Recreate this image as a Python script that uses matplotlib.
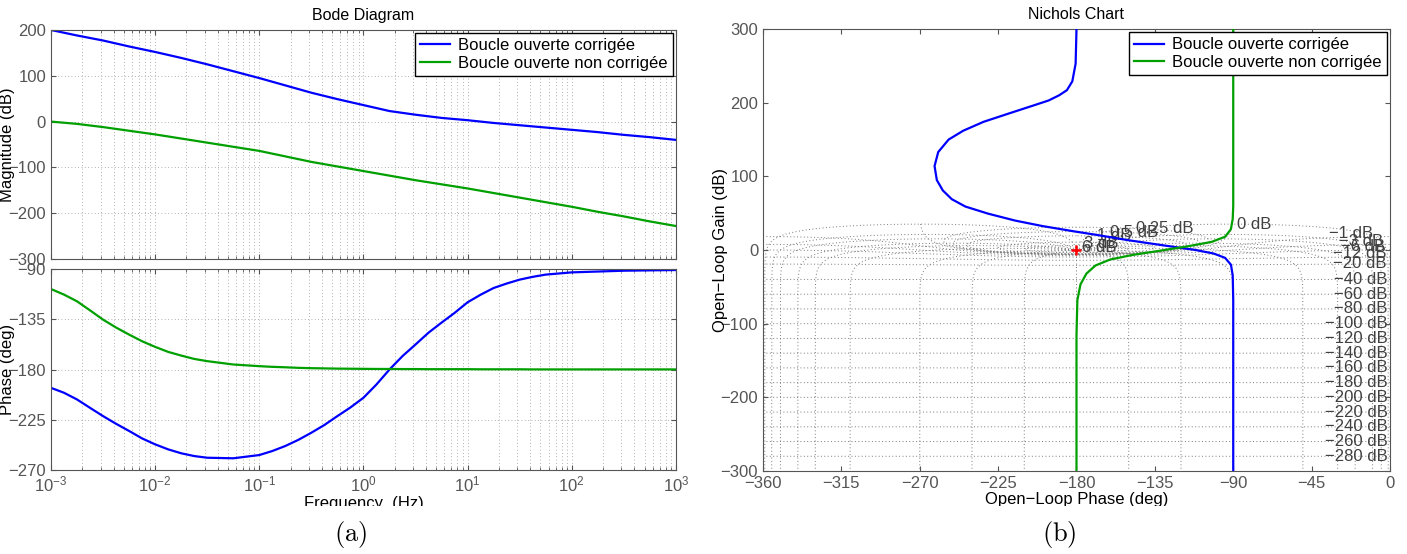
import numpy as np
import matplotlib.pyplot as plt
from matplotlib.patches import Rectangle
from matplotlib.ticker import LogLocator, NullFormatter

plt.rcParams['font.family'] = ['Liberation Sans', 'DejaVu Sans']
plt.rcParams['mathtext.fontset'] = 'custom'
plt.rcParams['mathtext.rm'] = 'Liberation Sans'
plt.rcParams['mathtext.it'] = 'Liberation Sans:italic'

blue = '#0000ff'
green = '#00a000'
grey = '#555555'
labels = ['Boucle ouverte corrigée', 'Boucle ouverte non corrigée']

# Bode magnitude (log10 of frequency in Hz, dB)
e_mag = [-3, -2.75, -2.5, -2.25, -2, -1.75, -1.5, -1.25, -1, -0.75, -0.5, -0.25,
         0, 0.25, 0.5, 0.75, 1, 1.25, 1.5, 1.75, 2, 2.25, 2.5, 2.75, 3]
mag_corr = [200, 188, 177, 164, 152, 139, 125, 110, 95, 79, 63, 49,
            36, 23, 15, 8, 3, -3, -8, -13, -18, -23, -29, -34, -40]
mag_ncorr = [0, -5, -12, -20, -28, -37, -46, -55, -64, -76, -88, -98,
             -108, -118, -128, -137, -146, -156, -166, -176, -186, -197, -207, -218, -228]

# Bode phase (log10 of frequency in Hz, deg)
e_ph = [-3, -2.875, -2.75, -2.625, -2.5, -2.375, -2.25, -2.125, -2, -1.875, -1.75, -1.625,
        -1.5, -1.25, -1, -0.875, -0.75, -0.625, -0.5, -0.375, -0.25, -0.125,
        0, 0.125, 0.25, 0.375, 0.5, 0.625, 0.75, 0.875, 1, 1.125, 1.25, 1.375,
        1.5, 1.625, 1.75, 2, 2.5, 3]
ph_corr = [-196.4, -200.8, -206.8, -214.3, -221.7, -228.6, -235, -241.7, -247, -251.5, -255, -257.5,
           -259, -259.5, -256.6, -253, -248.5, -243, -236.6, -229.7, -221.7, -214,
           -205.3, -193.4, -180, -168, -157.6, -147, -138, -129.3, -119.8, -113, -107, -103,
           -99.5, -97, -95, -93, -91.5, -90.9]
ph_ncorr = [-107.9, -112.9, -118.9, -127, -135.3, -142.4, -148.7, -154.7, -159.7, -164.2, -167.5, -170.5,
            -172.5, -175.5, -177, -177.6, -178, -178.5, -178.8, -179, -179.2, -179.3,
            -179.4, -179.5, -179.5, -179.6, -179.6, -179.7, -179.7, -179.7, -179.7, -179.8, -179.8, -179.8,
            -179.8, -179.9, -179.9, -179.9, -179.9, -179.9]

# Nichols curves (open loop phase in deg, gain in dB)
nic_corr_phase = [-180, -180.5, -182.4, -185.5, -190, -196, -205, -218, -233.4, -245, -253.4, -259.4,
                  -261.5, -260.2, -256.8, -251.6, -243.8, -230.8, -215.3, -199.7, -181.6, -168.6,
                  -150.5, -129.7, -111.6, -101.2, -94.7, -91.3, -90.3, -90, -90]
nic_corr_gain = [300, 253, 229, 217, 210, 203, 196, 186, 174, 162, 150, 133,
                 114, 95, 81, 69, 59, 49.4, 40, 32.6, 25.4, 20.6,
                 13.4, 6.2, 0, -4.8, -10.6, -20, -34.6, -68, -300]
nic_ncorr_phase = [-90, -90, -90.3, -91.4, -94.7, -102.5, -116.7, -132.3, -147.9, -160.8, -169.1,
                   -174.3, -177.7, -179.5, -180, -180]
nic_ncorr_gain = [300, 60, 42, 28, 18, 11, 4.8, -1, -6.7, -13, -21,
                  -32, -46.6, -68, -116, -300]

# ngrid levels (closed loop gain in dB, closed loop phase in deg)
ngrid_gains = [6, 3, 1, 0.5, 0.25, 0, -1, -3, -6, -12, -20] + list(range(-40, -281, -20))
ngrid_phases = [-1, -5, -10, -20, -30, -50, -90, -120, -150, -180]
pos_labels = [('6 dB', -177, 3), ('3 dB', -175.5, 9), ('1 dB', -168.5, 20),
              ('0.5 dB', -161, 24), ('0.25 dB', -146, 29.5), ('0 dB', -88, 35)]
neg_labels = [('\u22121 dB', -9.5, 22.5), ('\u22123 dB', -4, 11.3), ('\u22126 dB', -3, 4.5),
              ('\u221212 dB', -2, -4.5), ('\u221220 dB', -1.9, -18)] + \
             [('\u2212%d dB' % -g, -1.3, g) for g in range(-40, -281, -20)]


def style(ax):
    ax.tick_params(which='both', direction='in', top=True, right=True, colors=grey,
                   labelsize=12, labelcolor=grey)
    for s in ax.spines.values():
        s.set_color(grey)


def add_legend(ax):
    ax.legend(loc='upper right', fontsize=12, fancybox=False, framealpha=1,
              edgecolor='black', borderaxespad=0.2, handlelength=1.8, handletextpad=0.5,
              borderpad=0.3, labelspacing=0.15)


fig = plt.figure(figsize=(14.07, 5.54), dpi=100)
ax1 = fig.add_axes([0.0362, 0.5325, 0.4442, 0.4134])
ax2 = fig.add_axes([0.0362, 0.1516, 0.4442, 0.3628])
ax3 = fig.add_axes([0.5423, 0.1498, 0.4456, 0.7978])

f_mag = [10 ** e for e in e_mag]
f_ph = [10 ** e for e in e_ph]

# --- Bode magnitude
ax1.semilogx(f_mag, mag_corr, color=blue, lw=1.6, label=labels[0])
ax1.semilogx(f_mag, mag_ncorr, color=green, lw=1.6, label=labels[1])
ax1.set_xlim(1e-3, 1e3)
ax1.set_ylim(-300, 200)
ax1.set_yticks([-300, -200, -100, 0, 100, 200])
ax1.xaxis.set_minor_locator(LogLocator(base=10, subs=np.arange(2, 10), numticks=20))
ax1.xaxis.set_major_formatter(NullFormatter())
ax1.grid(which='both', ls=(0, (1, 3)), color='#999999', lw=0.6)
ax1.set_ylabel('Magnitude (dB)', fontsize=12)
ax1.yaxis.set_label_coords(-0.057, 0.5)
ax1.set_title('Bode Diagram', fontsize=11.5, pad=7)
style(ax1)
add_legend(ax1)

# --- Bode phase
ax2.semilogx(f_ph, ph_corr, color=blue, lw=1.6)
ax2.semilogx(f_ph, ph_ncorr, color=green, lw=1.6)
ax2.set_xlim(1e-3, 1e3)
ax2.set_ylim(-270, -90)
ax2.set_yticks([-270, -225, -180, -135, -90])
ax2.set_xticks([1e-3, 1e-2, 1e-1, 1, 10, 100, 1e3])
ax2.xaxis.set_minor_locator(LogLocator(base=10, subs=np.arange(2, 10), numticks=20))
ax2.grid(which='both', ls=(0, (1, 3)), color='#999999', lw=0.6)
ax2.set_ylabel('Phase (deg)', fontsize=12)
ax2.yaxis.set_label_coords(-0.057, 0.5)
ax2.set_xlabel('Frequency  (Hz)', fontsize=12)
ax2.xaxis.set_label_coords(0.5, -0.13)
style(ax2)

# --- Nichols grid
mag_sweep = np.concatenate([np.logspace(-16, -1, 400), np.logspace(-1, 1, 5000)[1:],
                            np.logspace(1, 5, 200)[1:]])
for gdb in ngrid_gains:
    m = 10 ** (gdb / 20.0)
    psi = np.linspace(-359, -1, 1500) if gdb == 0 else np.linspace(-360, 0, 1500)
    t = m * np.exp(1j * np.deg2rad(psi))
    g = t / (1 - t)
    ph = np.rad2deg(np.unwrap(np.angle(g)))
    ph += 360 * np.round((-180 - ph[len(ph) // 2]) / 360)
    ax3.plot(ph, 20 * np.log10(np.abs(g)), ls=(0, (1, 2.5)), color='#777777', lw=0.7, zorder=1)
for p in ngrid_phases + [-360 - p for p in ngrid_phases[:-1]]:
    t = mag_sweep * np.exp(1j * np.deg2rad(p))
    g = t / (1 - t)
    ph = np.rad2deg(np.unwrap(np.angle(g)))
    ph += 360 * np.round((p - ph[0]) / 360)
    ax3.plot(ph, 20 * np.log10(np.abs(g)), ls=(0, (1, 2.5)), color='#777777', lw=0.7, zorder=1)
for txt, x, y in pos_labels:
    ax3.text(x, y, txt, fontsize=12, color='#404040', ha='left', va='center', zorder=2)
for txt, x, y in neg_labels:
    ax3.text(x, y, txt, fontsize=12, color='#404040', ha='right', va='center', zorder=2)

# --- Nichols curves
ax3.plot(nic_corr_phase, nic_corr_gain, color=blue, lw=1.6, label=labels[0], zorder=3)
ax3.plot(nic_ncorr_phase, nic_ncorr_gain, color=green, lw=1.6, label=labels[1], zorder=3)
ax3.plot([-180], [0], marker='+', color='red', ms=7, mew=1.8, zorder=4)
ax3.set_xlim(-360, 0)
ax3.set_ylim(-300, 300)
ax3.set_xticks(np.arange(-360, 1, 45))
ax3.set_yticks(np.arange(-300, 301, 100))
ax3.set_title('Nichols Chart', fontsize=11.5, pad=7)
ax3.set_ylabel('Open\u2212Loop Gain (dB)', fontsize=12)
ax3.yaxis.set_label_coords(-0.056, 0.5)
ax3.set_xlabel('Open\u2212Loop Phase (deg)', fontsize=12)
ax3.xaxis.set_label_coords(0.5, -0.048)
style(ax3)
add_legend(ax3)

# subfigure crop of the axis labels
fig.add_artist(Rectangle((0, 34 / 554), 1, 14 / 554, transform=fig.transFigure,
                         facecolor='white', edgecolor='none', zorder=5))

fig.text(0.249, 0.035, r'$\mathrm{(a)}$', fontsize=19, ha='center', va='center', math_fontfamily='cm')
fig.text(0.753, 0.035, r'$\mathrm{(b)}$', fontsize=19, ha='center', va='center', math_fontfamily='cm')

fig.savefig('out.png', dpi=100)
